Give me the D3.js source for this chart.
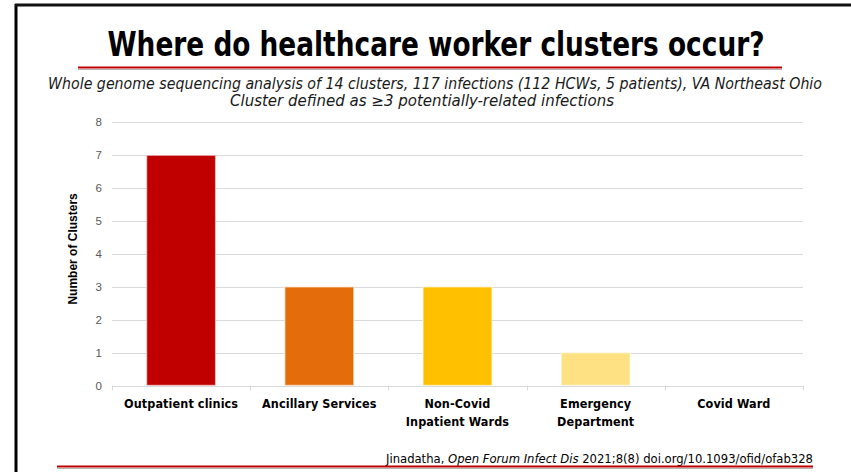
<!DOCTYPE html>
<html>
<head>
<meta charset="utf-8">
<script src="https://cdn.jsdelivr.net/npm/d3@7"></script>
<style>
  html, body { margin: 0; padding: 0; background: #fff; }
  svg { display: block; }
</style>
</head>
<body>
<svg id="chart" width="851" height="472"></svg>
<script>
// Cluster counts by hospital location
const categories = [
  ["Outpatient clinics"],
  ["Ancillary Services"],
  ["Non-Covid", "Inpatient Wards"],
  ["Emergency", "Department"],
  ["Covid Ward"]
];
const clusters = [7, 3, 3, 1, 0];
const barColors = ["#C00000", "#E46C0A", "#FFC000", "#FEE183", "#D9D9D9"];
const yTicks = [0, 1, 2, 3, 4, 5, 6, 7, 8];

const titleText = "Where do healthcare worker clusters occur?";
const subtitleLines = [
  "Whole genome sequencing analysis of 14 clusters, 117 infections (112 HCWs, 5 patients), VA Northeast Ohio",
  "Cluster defined as \u22653 potentially-related infections"
];
const yTitle = "Number of Clusters";

const W = 851, H = 472;
const svg = d3.select("#chart");
const condensed = "'Liberation Sans Narrow', 'DejaVu Sans Condensed', 'Arial Narrow', sans-serif";
const plain = "'Liberation Sans', Arial, sans-serif";

// Stretch or squeeze a text element to a given width
function fitWidth(sel, width) {
  sel.each(function () {
    const len = this.getComputedTextLength();
    if (len > 0) {
      d3.select(this).attr("textLength", width).attr("lengthAdjust", "spacingAndGlyphs");
    }
  });
}

// Slide frame
svg.append("line").attr("x1", 16).attr("x2", 16).attr("y1", 4).attr("y2", H)
  .attr("stroke", "#000").attr("stroke-width", 3);
svg.append("line").attr("x1", 15).attr("x2", W).attr("y1", 5).attr("y2", 5)
  .attr("stroke", "#111").attr("stroke-width", 3);

// Title
const title = svg.append("text")
  .attr("x", 436).attr("y", 56)
  .attr("text-anchor", "middle")
  .attr("font-family", condensed)
  .attr("font-weight", "bold")
  .attr("font-size", 33)
  .attr("fill", "#000")
  .text(titleText);
fitWidth(title, 657);

// Title rule
svg.append("line").attr("x1", 78).attr("x2", 782).attr("y1", 69.5).attr("y2", 69.5)
  .attr("stroke", "#b5b5b5").attr("stroke-width", 1.2);
svg.append("line").attr("x1", 78).attr("x2", 782).attr("y1", 67.5).attr("y2", 67.5)
  .attr("stroke", "#C00000").attr("stroke-width", 2);

// Subtitle
const subWidths = [774, 384];
const subCenter = [435, 422];
subtitleLines.forEach((s, i) => {
  const t = svg.append("text")
    .attr("x", subCenter[i]).attr("y", 89 + i * 17)
    .attr("text-anchor", "middle")
    .attr("font-family", condensed)
    .attr("font-style", "italic")
    .attr("font-size", 15)
    .attr("fill", "#1a1a1a")
    .text(s);
  fitWidth(t, subWidths[i]);
});

// Plot area
const plot = { left: 112, right: 803, top: 122.3, bottom: 385.5 };

const x = d3.scaleBand()
  .domain(d3.range(categories.length))
  .range([plot.left, plot.right])
  .paddingInner(0.5)
  .paddingOuter(0.25);

const y = d3.scaleLinear().domain([0, 8]).range([plot.bottom, plot.top]);

// Gridlines
svg.append("g")
  .selectAll("line")
  .data(yTicks.filter(d => d > 0))
  .join("line")
  .attr("x1", plot.left).attr("x2", plot.right)
  .attr("y1", d => Math.round(y(d)) + 0.5).attr("y2", d => Math.round(y(d)) + 0.5)
  .attr("stroke", "#d9d9d9").attr("stroke-width", 1);

// Y tick labels
svg.append("g")
  .selectAll("text")
  .data(yTicks)
  .join("text")
  .attr("x", 102).attr("y", d => y(d) + 4)
  .attr("text-anchor", "end")
  .attr("font-family", plain)
  .attr("font-size", 11.5)
  .attr("fill", "#595959")
  .text(d => d);

// Bars
svg.append("g")
  .selectAll("rect")
  .data(clusters)
  .join("rect")
  .attr("x", (d, i) => x(i))
  .attr("width", x.bandwidth())
  .attr("y", d => y(d))
  .attr("height", d => y(0) - y(d))
  .attr("fill", (d, i) => barColors[i])
  .attr("stroke", "rgba(255,255,255,0.55)")
  .attr("stroke-width", 1.5);

// Category axis
const step = x.step();
const boundaries = d3.range(categories.length + 1).map(i => plot.left + i * step);
svg.append("line").attr("x1", plot.left).attr("x2", plot.right)
  .attr("y1", Math.round(y(0)) + 0.5).attr("y2", Math.round(y(0)) + 0.5)
  .attr("stroke", "#d9d9d9").attr("stroke-width", 1);
svg.append("g")
  .selectAll("line")
  .data(boundaries)
  .join("line")
  .attr("x1", d => Math.round(d) + 0.5).attr("x2", d => Math.round(d) + 0.5)
  .attr("y1", y(0)).attr("y2", y(0) + 5)
  .attr("stroke", "#d9d9d9").attr("stroke-width", 1);

// Category labels
const catG = svg.append("g");
categories.forEach((lines, i) => {
  const cx = x(i) + x.bandwidth() / 2;
  lines.forEach((ln, j) => {
    catG.append("text")
      .attr("x", cx).attr("y", 408 + j * 18)
      .attr("text-anchor", "middle")
      .attr("font-family", condensed)
      .attr("font-weight", "bold")
      .attr("font-size", 12.5)
      .attr("letter-spacing", 0.1)
      .attr("fill", "#000")
      .text(ln);
  });
});

// Y axis title
svg.append("text")
  .attr("transform", `translate(77, ${(plot.top + plot.bottom) / 2 - 5}) rotate(-90)`)
  .attr("text-anchor", "middle")
  .attr("font-family", plain)
  .attr("font-weight", "bold")
  .attr("font-size", 12)
  .attr("fill", "#000")
  .text(yTitle);

// Citation
const cite = svg.append("text")
  .attr("x", 813).attr("y", 463)
  .attr("text-anchor", "end")
  .attr("font-family", condensed)
  .attr("font-size", 13)
  .attr("fill", "#000");
cite.append("tspan").text("Jinadatha, ");
cite.append("tspan").attr("font-style", "italic").text("Open Forum Infect Dis");
cite.append("tspan").text(" 2021;8(8) doi.org/10.1093/ofid/ofab328");
fitWidth(cite, 427);

// Bottom rule
svg.append("line").attr("x1", 57).attr("x2", 813).attr("y1", 468.5).attr("y2", 468.5)
  .attr("stroke", "#b5b5b5").attr("stroke-width", 1.2);
svg.append("line").attr("x1", 57).attr("x2", 813).attr("y1", 466.5).attr("y2", 466.5)
  .attr("stroke", "#C00000").attr("stroke-width", 2);
</script>
</body>
</html>
